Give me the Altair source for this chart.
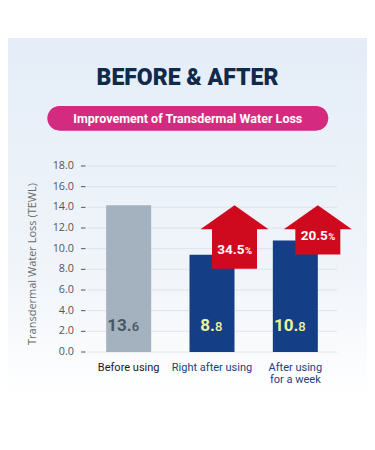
import altair as alt
import pandas as pd

# ---- data ----
categories = ["Before using", "Right after using", "After using\nfor a week"]
bar_heights = [14.2, 9.4, 10.8]
value_labels = ["13.6", "8.8", "10.8"]
improvement = [None, "34.5", "20.5"]
bar_colors = ["#a3b2be", "#143f86", "#143f86"]
label_colors = ["#4b5661", "#eef39a", "#eef39a"]
cat_label_colors = ["#1a1a1a", "#1f3f80", "#1f3f80"]
tick_values = [0, 2, 4, 6, 8, 10, 12, 14, 16, 18]

title_text = "BEFORE & AFTER"
pill_text = "Improvement of Transdermal Water Loss"
y_title = "Transdermal Water Loss (TEWL)"

ref = bar_heights[0]
df = pd.DataFrame({
    "cat": categories,
    "h": bar_heights,
    "ref": [ref] * len(categories),
    "zero": [0] * len(categories),
    "main": [v.split(".")[0] + "." for v in value_labels],
    "dec": [v.split(".")[1] for v in value_labels],
    "imp": improvement,
    "bc": bar_colors,
    "lc": label_colors,
    "xc": cat_label_colors,
})
arrow_df = df[df["imp"].notna()].copy()
one = pd.DataFrame({"a": [0]})
grid_df = pd.DataFrame({"t": tick_values, "lab": [f"{t:.1f}" for t in tick_values]})

W, H = 250, 186
PL, PT, PR, PB = 79, 158, 30, 86

xscale = alt.Scale(domain=categories, paddingInner=0.46, paddingOuter=0.23)
yscale = alt.Scale(domain=[0, 18], nice=False)

X = alt.X("cat:N", sort=categories, scale=xscale, axis=None)
def Y(f):
    return alt.Y(f, scale=yscale, axis=None)

# background gradient
bg = alt.Chart(one).mark_rect(
    color=alt.Gradient(
        gradient="linear",
        stops=[alt.GradientStop(color="#e4edf8", offset=0),
               alt.GradientStop(color="#f1f5fa", offset=0.6),
               alt.GradientStop(color="#ffffff", offset=0.9)],
        x1=0, x2=0, y1=0, y2=1,
    )
).encode(
    x=alt.value(-PL), x2=alt.value(W + PR),
    y=alt.value(-128), y2=alt.value(H + PB),
)

grid = alt.Chart(grid_df).mark_rule(color="#d3dbe5", strokeWidth=1, opacity=0.7).encode(
    y=Y("t:Q")
)
ticks = alt.Chart(grid_df).mark_rule(color="#555555", strokeWidth=1).encode(
    y=Y("t:Q"), x=alt.value(-6), x2=alt.value(-1.5)
)
ylabels = alt.Chart(grid_df).mark_text(
    font="Open Sans", fontSize=10.8, color="#555555", align="right", baseline="middle"
).encode(y=Y("t:Q"), x=alt.value(-13), text="lab:N")
ytitle = alt.Chart(one).mark_text(
    text=y_title, font="Open Sans", fontSize=11, color="#6a6a6a", angle=270,
    align="center", baseline="middle",
).encode(x=alt.value(-54), y=alt.value(98))

xlabels = alt.Chart(df).transform_calculate(
    lines="split(datum.cat, '\\n')"
).mark_text(
    font="Roboto", fontSize=11, align="center", baseline="top", lineHeight=11.5,
).encode(x=X, y=alt.value(H + 10), text="lines:N", color=alt.Color("xc:N", scale=None))

title = alt.Chart(one).mark_text(
    text=title_text, font="Roboto", fontSize=23, fontWeight=900,
    color="#102a4c", align="center", baseline="alphabetic",
).encode(x=alt.value(100.5), y=alt.value(-81))

pill = alt.Chart(one).mark_rect(color="#d42a7f", cornerRadius=12.5).encode(
    x=alt.value(-39.7), x2=alt.value(241.3), y=alt.value(-60), y2=alt.value(-35.3)
)
pill_t = alt.Chart(one).mark_text(
    text=pill_text, font="Roboto", fontSize=12.5, fontWeight="bold",
    color="white", align="center", baseline="middle",
).encode(x=alt.value(100.8), y=alt.value(-47.5))

bars = alt.Chart(df).mark_bar(size=45).encode(
    x=X, y=Y("h:Q"), color=alt.Color("bc:N", scale=None),
)

val_main = alt.Chart(df).mark_text(
    font="Roboto", fontSize=17, fontWeight="bold", align="right",
    baseline="alphabetic", dx=3, dy=-21,
).encode(x=X, y=Y("zero:Q"), text="main:N", color=alt.Color("lc:N", scale=None))
val_dec = alt.Chart(df).mark_text(
    font="Roboto", fontSize=13, fontWeight=500, align="left",
    baseline="alphabetic", dx=3, dy=-21,
).encode(x=X, y=Y("zero:Q"), text="dec:N", color=alt.Color("lc:N", scale=None))

RED = "#d00a1e"
shaft = alt.Chart(arrow_df).mark_bar(size=45, color=RED, xOffset=22.5, yOffset=23.5, y2Offset=14).encode(
    x=X, y=Y("ref:Q"), y2="h:Q",
)
head = alt.Chart(arrow_df).mark_point(
    shape="M-1,0.353L0,-0.353L1,0.353Z", size=68 * 68, filled=True,
    color=RED, opacity=1, strokeWidth=0, xOffset=22.5, yOffset=12,
).encode(x=X, y=Y("ref:Q"))

pct = alt.Chart(arrow_df).mark_text(
    font="Roboto", fontSize=13.5, fontWeight="bold", color="white",
    align="right", baseline="alphabetic", dx=32.5, dy=-0.5,
).encode(x=X, y=Y("h:Q"), text="imp:N")
pct_sign = alt.Chart(arrow_df).mark_text(
    text="%", font="Roboto", fontSize=9.5, fontWeight="bold", color="white",
    align="left", baseline="alphabetic", dx=33, dy=-0.5,
).encode(x=X, y=Y("h:Q"))

chart = alt.layer(
    bg, grid, ticks, ylabels, ytitle, xlabels, title, pill, pill_t,
    bars, val_main, val_dec, shaft, head, pct, pct_sign
).properties(
    width=W, height=H,
    padding={"left": PL, "top": PT, "right": PR, "bottom": PB},
    autosize="none",
).configure_view(stroke=None).configure(background="white")

chart.save("out.html", embed_options={"renderer": "svg", "actions": False})
